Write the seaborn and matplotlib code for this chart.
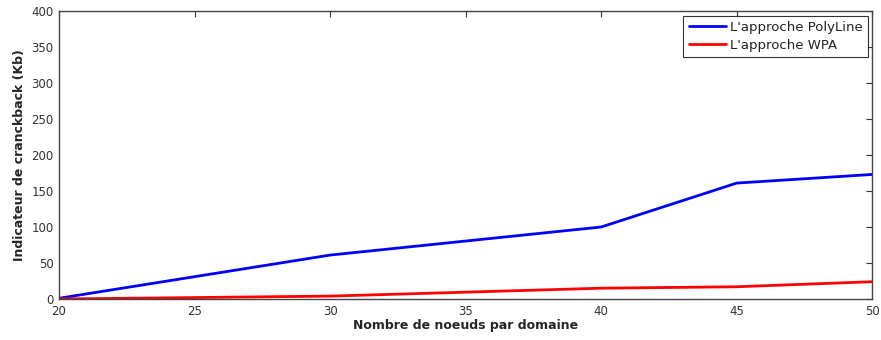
import matplotlib
matplotlib.use("Agg")
import matplotlib.pyplot as plt
import seaborn as sns
import pandas as pd

nodes = [20, 30, 40, 45, 50]
polyline = [1, 61, 100, 161, 173]
wpa = [0, 4, 15, 17, 24]
series_names = ["L'approche PolyLine", "L'approche WPA"]

df = pd.DataFrame({
    "x": nodes + nodes,
    "y": polyline + wpa,
    "s": [series_names[0]] * len(nodes) + [series_names[1]] * len(nodes),
})

sns.set_style("white")
plt.rcParams['font.family'] = ['DejaVu Sans']

fig = plt.figure(figsize=(8.81, 3.40), dpi=100)
ax = fig.add_axes([0.067, 0.1206, 0.923, 0.847])
sns.lineplot(data=df, x="x", y="y", hue="s", palette=["#0000ff", "#ff0000"],
             linewidth=2, ax=ax, legend=True)

ax.set_xlim(20, 50)
ax.set_ylim(0, 400)
ax.set_xticks([20, 25, 30, 35, 40, 45, 50])
ax.set_yticks(range(0, 401, 50))
ax.tick_params(direction="in", top=True, right=True, labelsize=8.5, length=4,
               color="#333333", labelcolor="#333333", pad=4)
for sp in ax.spines.values():
    sp.set_color("#444444")
    sp.set_linewidth(1)
ax.set_xlabel("Nombre de noeuds par domaine", fontsize=9, fontweight="bold", labelpad=1)
ax.set_ylabel("Indicateur de cranckback (Kb)", fontsize=9, fontweight="bold", labelpad=4)
leg = ax.legend(loc="upper right", fontsize=9.5, frameon=True, fancybox=False,
                edgecolor="black", handlelength=2.8, borderaxespad=0.35,
                labelspacing=0.35, handletextpad=0.3)
leg.get_frame().set_linewidth(0.8)
for t in leg.get_texts():
    t.set_color("#222222")

fig.savefig("out.png", dpi=100)
